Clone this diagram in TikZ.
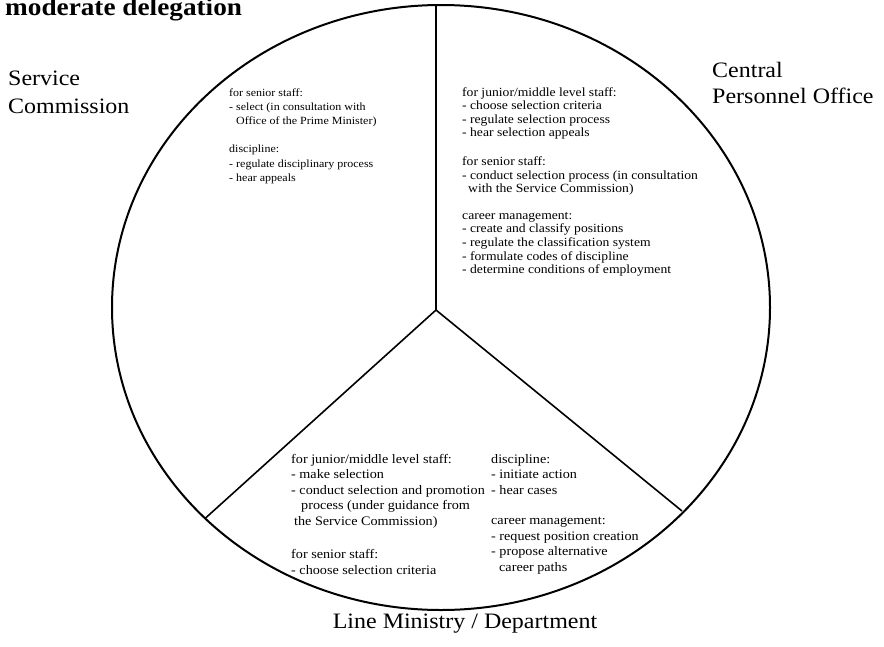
\documentclass[tikz,border=0pt]{standalone}
\usepackage{fontspec}
\setmainfont{Liberation Serif}[FakeStretch=1.09]
\usepackage{tikz}
\tikzset{
	bigname/.style={inner sep=0pt,align=left,font=\fontsize{22}{27.5}\selectfont},
	duties/.style={inner sep=0pt,align=left,anchor=base west,font=\fontsize{12.5}{13.6}\selectfont},
	lowduties/.style={duties,font=\fontsize{13}{15.5}\selectfont},
	rim/.style={line width=2pt},
	spoke/.style={line width=1.6pt}
}

\begin{document}
\begin{tikzpicture}[x=1pt,y=-1pt]
		\useasboundingbox (0,0) rectangle (884,646);

		% title
		\node[inner sep=0pt,anchor=base west,font=\fontsize{25}{30}\selectfont\bfseries] (title) at (5,15) {moderate delegation};

		% outline and spokes
		\draw[rim] (441,307.5) ellipse [x radius=329, y radius=302.5];
		\coordinate (hub) at (436,310);
		\coordinate (top) at (436,5);
		\coordinate (lowleft) at (205,518.5);
		\coordinate (lowright) at (682,511);
		\draw[spoke] (hub) -- (top);
		\draw[spoke] (hub) -- (lowleft);
		\draw[spoke] (hub) -- (lowright);

		% sector names (placed at the baseline of the last line)
		\node[bigname,anchor=base west] (sc) at (8,113) {Service\\Commission};
		\node[bigname,anchor=base west,font=\fontsize{22}{26}\selectfont] (cpo) at (712,103) {Central\\Personnel Office};
		\node[bigname,anchor=base] (lm) at (465,628) {Line Ministry / Department};

		% service commission
		\node[duties,font=\fontsize{11}{14.3}\selectfont] (scduties) at (229,181.5) {for senior staff:\\
			- select (in consultation with\\
			\hspace{7pt}Office of the Prime Minister)\\[14pt]
			discipline:\\
			- regulate disciplinary process\\
			- hear appeals};

		% central personnel office
		\node[duties] (cpoduties) at (462,273.6) {for junior/middle level staff:\\
			- choose selection criteria\\
			- regulate selection process\\
			- hear selection appeals\\[15pt]
			for senior staff:\\
			- conduct selection process (in consultation\\
			\hspace{6pt}with the Service Commission)\\[13pt]
			career management:\\
			- create and classify positions\\
			- regulate the classification system\\
			- formulate codes of discipline\\
			- determine conditions of employment};

		% line ministry, staffing
		\node[lowduties] (lmstaff) at (291,574) {for junior/middle level staff:\\
			- make selection\\
			- conduct selection and promotion\\
			\hspace{10pt}process (under guidance from\\
			\hspace{3pt}the Service Commission)\\[18pt]
			for senior staff:\\
			- choose selection criteria};

		% line ministry, discipline and careers
		\node[lowduties] (lmcareer) at (491,571) {discipline:\\
			- initiate action\\
			- hear cases\\[15pt]
			career management:\\
			- request position creation\\
			- propose alternative\\
			\hspace{8pt}career paths};

	\end{tikzpicture}
\end{document}
